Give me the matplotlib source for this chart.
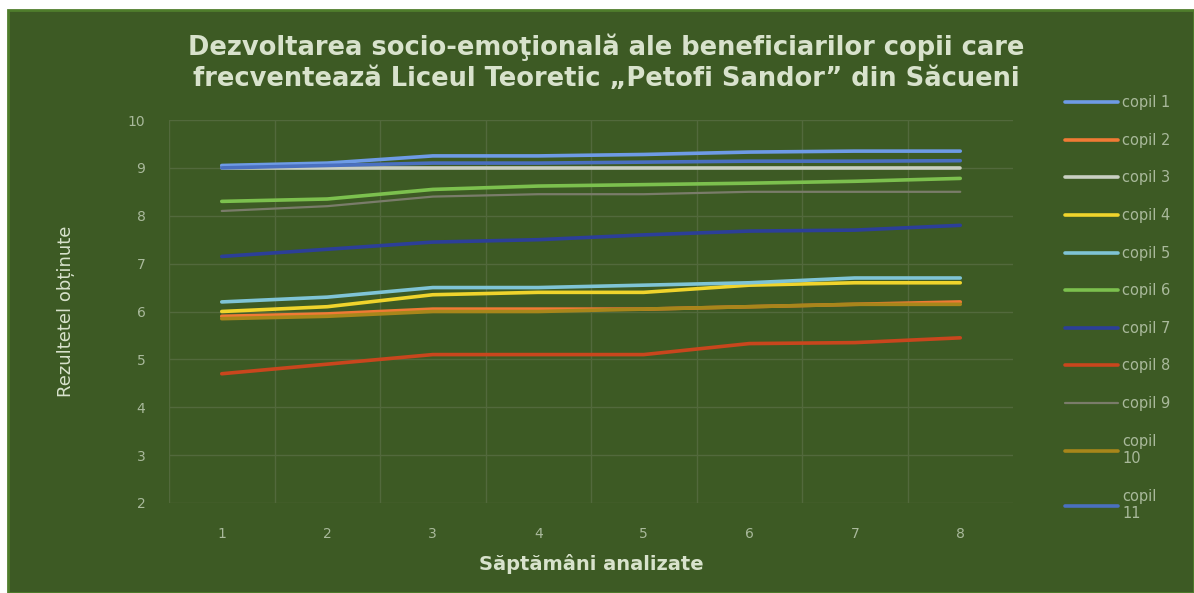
import matplotlib
matplotlib.use('Agg')
import matplotlib.pyplot as plt
from matplotlib.patches import Rectangle

# weeks on the x axis
weeks = [1, 2, 3, 4, 5, 6, 7, 8]

copil_1 = [9.05, 9.1, 9.25, 9.25, 9.28, 9.33, 9.35, 9.35]
copil_2 = [5.9, 5.95, 6.05, 6.05, 6.05, 6.1, 6.15, 6.2]
copil_3 = [9.0, 9.0, 9.0, 9.0, 9.0, 9.0, 9.0, 9.0]
copil_4 = [6.0, 6.1, 6.35, 6.4, 6.4, 6.55, 6.6, 6.6]
copil_5 = [6.2, 6.3, 6.5, 6.5, 6.55, 6.6, 6.7, 6.7]
copil_6 = [8.3, 8.35, 8.55, 8.62, 8.65, 8.68, 8.72, 8.78]
copil_7 = [7.15, 7.3, 7.45, 7.5, 7.6, 7.68, 7.7, 7.8]
copil_8 = [4.7, 4.9, 5.1, 5.1, 5.1, 5.33, 5.35, 5.45]
copil_9 = [8.1, 8.2, 8.4, 8.45, 8.45, 8.5, 8.5, 8.5]
copil_10 = [5.85, 5.9, 6.0, 6.0, 6.05, 6.1, 6.15, 6.15]
copil_11 = [9.0, 9.05, 9.1, 9.1, 9.12, 9.14, 9.14, 9.15]

series = [copil_1, copil_2, copil_3, copil_4, copil_5, copil_6,
          copil_7, copil_8, copil_9, copil_10, copil_11]
labels = ['copil 1', 'copil 2', 'copil 3', 'copil 4', 'copil 5', 'copil 6',
          'copil 7', 'copil 8', 'copil 9', 'copil\n10', 'copil\n11']
colors = ['#6e9be6', '#f07a35', '#c9cfc2', '#f0d42c', '#7fc4d6', '#7cc04e',
          '#2c3f98', '#c9461d', '#7a7c6a', '#a8861a', '#4a70c0']
widths = [2.6, 2.6, 2.6, 2.6, 2.6, 2.6, 2.6, 2.6, 1.6, 2.6, 2.6]

y_ticks = [2, 3, 4, 5, 6, 7, 8, 9, 10]

bg = '#3d5a24'
text_light = '#d8e2cc'
tick_col = '#a9b99b'
grid_col = '#52693c'

fig = plt.figure(figsize=(11.94, 5.93), dpi=100, facecolor='white')
# green chart area with thin white margin on the left and top
fig.patches.append(Rectangle((8 / 1194, 0), 1 - 8 / 1194, 1 - 10 / 593,
                             transform=fig.transFigure, facecolor=bg,
                             edgecolor='#4f7d2c', linewidth=2, zorder=-1))

ax = fig.add_axes([169 / 1194, 1 - 503 / 593, (1013 - 169) / 1194, (503 - 120) / 593])
ax.set_facecolor(bg)

for vals, lab, col, lw in zip(series, labels, colors, widths):
    ax.plot(weeks, vals, color=col, linewidth=lw, label=lab, solid_capstyle='round')

ax.set_xlim(0.5, 8.5)
ax.set_ylim(2, 10)
ax.set_yticks(y_ticks)
ax.set_xticks(weeks)
ax.set_xticks([w + 0.5 for w in weeks[:-1]] + [0.5], minor=True)
ax.tick_params(axis='both', which='both', length=0, colors=tick_col, labelsize=10, pad=17)
ax.tick_params(axis='x', pad=17)
ax.grid(True, axis='y', color=grid_col, linewidth=1)
ax.grid(True, axis='x', which='minor', color=grid_col, linewidth=1)
for s in ax.spines.values():
    s.set_visible(False)

ax.set_xlabel('Săptămâni analizate', fontsize=14, fontweight='bold', color=text_light, labelpad=10)
ax.set_ylabel('Rezultetel obținute', fontsize=13, color=text_light, labelpad=38,
              family=['Liberation Sans Narrow', 'DejaVu Sans'])

fig.text(0.508, 0.894, 'Dezvoltarea socio-emoţională ale beneficiarilor copii care\n'
         'frecventează Liceul Teoretic „Petofi Sandor” din Săcueni',
         ha='center', va='center', fontsize=18.5, fontweight='bold', color=text_light,
         linespacing=1.25)

leg = ax.legend(loc='upper left', bbox_to_anchor=(1.055, 1.08), frameon=False,
                fontsize=10.5, labelcolor=tick_col, handlelength=3.6,
                handletextpad=0.3, labelspacing=1.55, borderaxespad=0)

fig.savefig('out.png', dpi=100, facecolor=fig.get_facecolor())
